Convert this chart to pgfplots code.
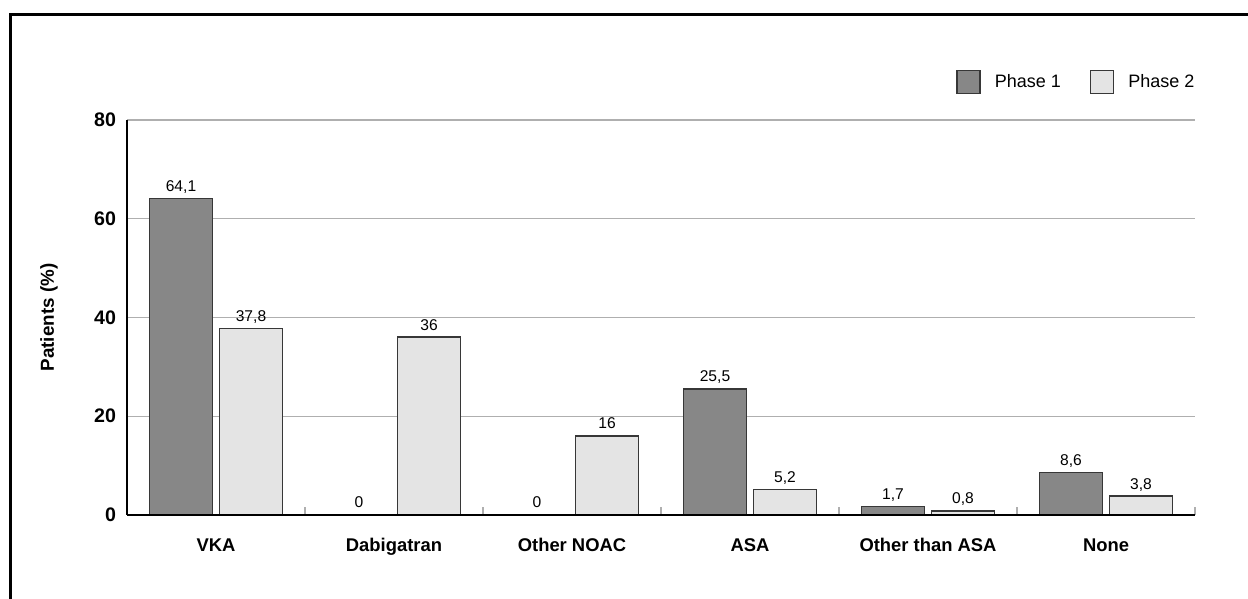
\documentclass[border=0pt]{standalone}
\usepackage{fontspec}
\setmainfont{Liberation Sans}
\usepackage{pgfplots}
\usepackage{pgfplotstable}
\pgfplotsset{compat=1.18}

\definecolor{phaseone}{RGB}{135,135,135}
\definecolor{phasetwo}{RGB}{228,228,228}
\definecolor{baredge}{RGB}{55,55,55}
\definecolor{gridgray}{RGB}{175,175,175}

\pgfplotsset{sqlegend/.style={legend image code/.code={\draw[##1] (0pt,-5.75pt) rectangle (11.5pt,5.75pt);}}}

\pgfplotstableread{
x p1 l1 p2 l2
0 64.1 64,1 37.8 37,8
1 0 0 36 36
2 0 0 16 16
3 25.5 25,5 5.2 5,2
4 1.7 1,7 0.8 0,8
5 8.6 8,6 3.8 3,8
}\drugs

\begin{document}
\begin{tikzpicture}
\useasboundingbox (0,0) rectangle (624pt,299.5pt);
\begin{axis}[
  scale only axis,
  width=534pt, height=197.5pt,
  at={(63.5pt,42pt)}, anchor=south west,
  xmin=-0.5, xmax=5.5,
  ymin=0, ymax=80,
  axis lines*=left,
  axis line style={line width=1pt, black},
  ybar, bar width=31.5pt,
  ymajorgrids,
  grid style={gridgray, line width=0.6pt},
  ytick={0,20,40,60,80},
  xtick={0,...,5},
  xticklabels={VKA, Dabigatran, Other NOAC, ASA, Other than ASA, None},
  minor xtick={0.5,1.5,2.5,3.5,4.5,5.5},
  major tick length=0pt,
  minor tick length=4pt,
  tick align=inside,
  minor tick style={gridgray, line width=0.6pt},
  /pgf/number format/assume math mode=true,
  xticklabel style={font=\fontsize{9.2}{11}\selectfont\bfseries, text height=6.9pt, text depth=2pt, yshift=-7.6pt},
  yticklabel style={font=\fontsize{9.8}{11}\selectfont\bfseries, xshift=-2pt},
  ylabel={Patients (\%)},
  ylabel style={font=\fontsize{9.4}{11}\selectfont\bfseries, at={(axis description cs:-0.073,0.5)}, anchor=center},
  legend columns=2,
  legend style={at={(1.0036,1.096)}, anchor=east, draw=none, fill=none, inner sep=0pt,
    font=\fontsize{9}{10.5}\selectfont,
    /tikz/every odd column/.append style={column sep=5pt},
    /tikz/every even column/.append style={column sep=12.5pt}},
  legend cell align=left,
  every node near coord/.append style={font=\fontsize{7.8}{9}\selectfont, inner sep=0pt, text depth=0pt, yshift=3.2pt, black},
]
\addplot[fill=phaseone, draw=baredge, line width=0.8pt, bar shift=-17.5pt,
  nodes near coords, point meta=explicit symbolic, sqlegend]
  table[x=x, y=p1, meta=l1] {\drugs};
\addlegendentry{Phase 1}
\addplot[fill=phasetwo, draw=baredge, line width=0.8pt, bar shift=17.5pt,
  nodes near coords, point meta=explicit symbolic, sqlegend]
  table[x=x, y=p2, meta=l2] {\drugs};
\addlegendentry{Phase 2}
\draw[line width=1pt, black] (axis cs:-0.5,0) -- (axis cs:5.5,0);
\end{axis}
\draw[line width=1.5pt] (5.25pt,-2pt) -- (5.25pt,292.25pt) -- (630pt,292.25pt);
\end{tikzpicture}
\end{document}
